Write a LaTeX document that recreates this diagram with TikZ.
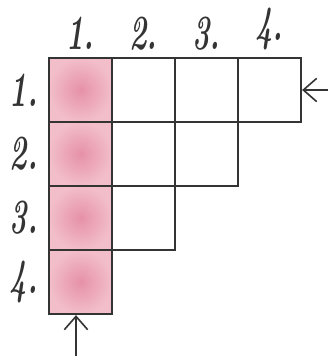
\documentclass[tikz,border=0pt]{standalone}
\usepackage{graphicx}
\usepackage{tikz}
\usetikzlibrary{arrows.meta, positioning}
\definecolor{ink}{RGB}{52,52,52}
\definecolor{rosein}{RGB}{230,145,168}
\definecolor{roseout}{RGB}{242,190,201}
\newcommand{\hnum}[1]{\scalebox{0.6}[1]{#1}}
\tikzset{
  cell/.style     = {rectangle, draw=ink, line width=1.9pt,
                     minimum width=1.89cm, minimum height=1.92cm, inner sep=0pt},
  rosecell/.style = {cell, shade, inner color=rosein, outer color=roseout},
  lbl/.style      = {inner sep=0pt, text=ink,
                     font=\fontsize{42}{42}\selectfont\bfseries\itshape},
  feed/.style     = {-{Straight Barb[length=4mm, width=7mm]}, line width=1.4pt,
                     draw=ink},
}
\begin{document}
\begin{tikzpicture}[x=0.03cm, y=0.03cm]
  \useasboundingbox (0,0) rectangle (328,356);
  % staircase of cells, first column coloured
  \foreach \r in {1,...,4}{
    \pgfmathtruncatemacro\last{5-\r}
    \foreach \c in {1,...,\last}{
      \ifnum\c=1
        \node[rosecell] (c-\r-\c) at ({17.5+63*\c}, {330-64*\r}) {};
      \else
        \node[cell] (c-\r-\c) at ({17.5+63*\c}, {330-64*\r}) {};
      \fi
    }
  }

  \foreach \c in {1,...,4}
    \node[lbl, above=0.2cm of c-1-\c] (top-\c) {\hnum{\c.}};
  \foreach \r in {1,...,4}
    \node[lbl, left=0.3cm of c-\r-1] (side-\r) {\hnum{\r.}};

  \coordinate (inR) at (328,266);
  \coordinate (inB) at (76,0);
  \draw[feed] (inR) -- (c-1-4.east);
  \draw[feed] (inB) -- (inB |- c-4-1.south);
\end{tikzpicture}
\end{document}
